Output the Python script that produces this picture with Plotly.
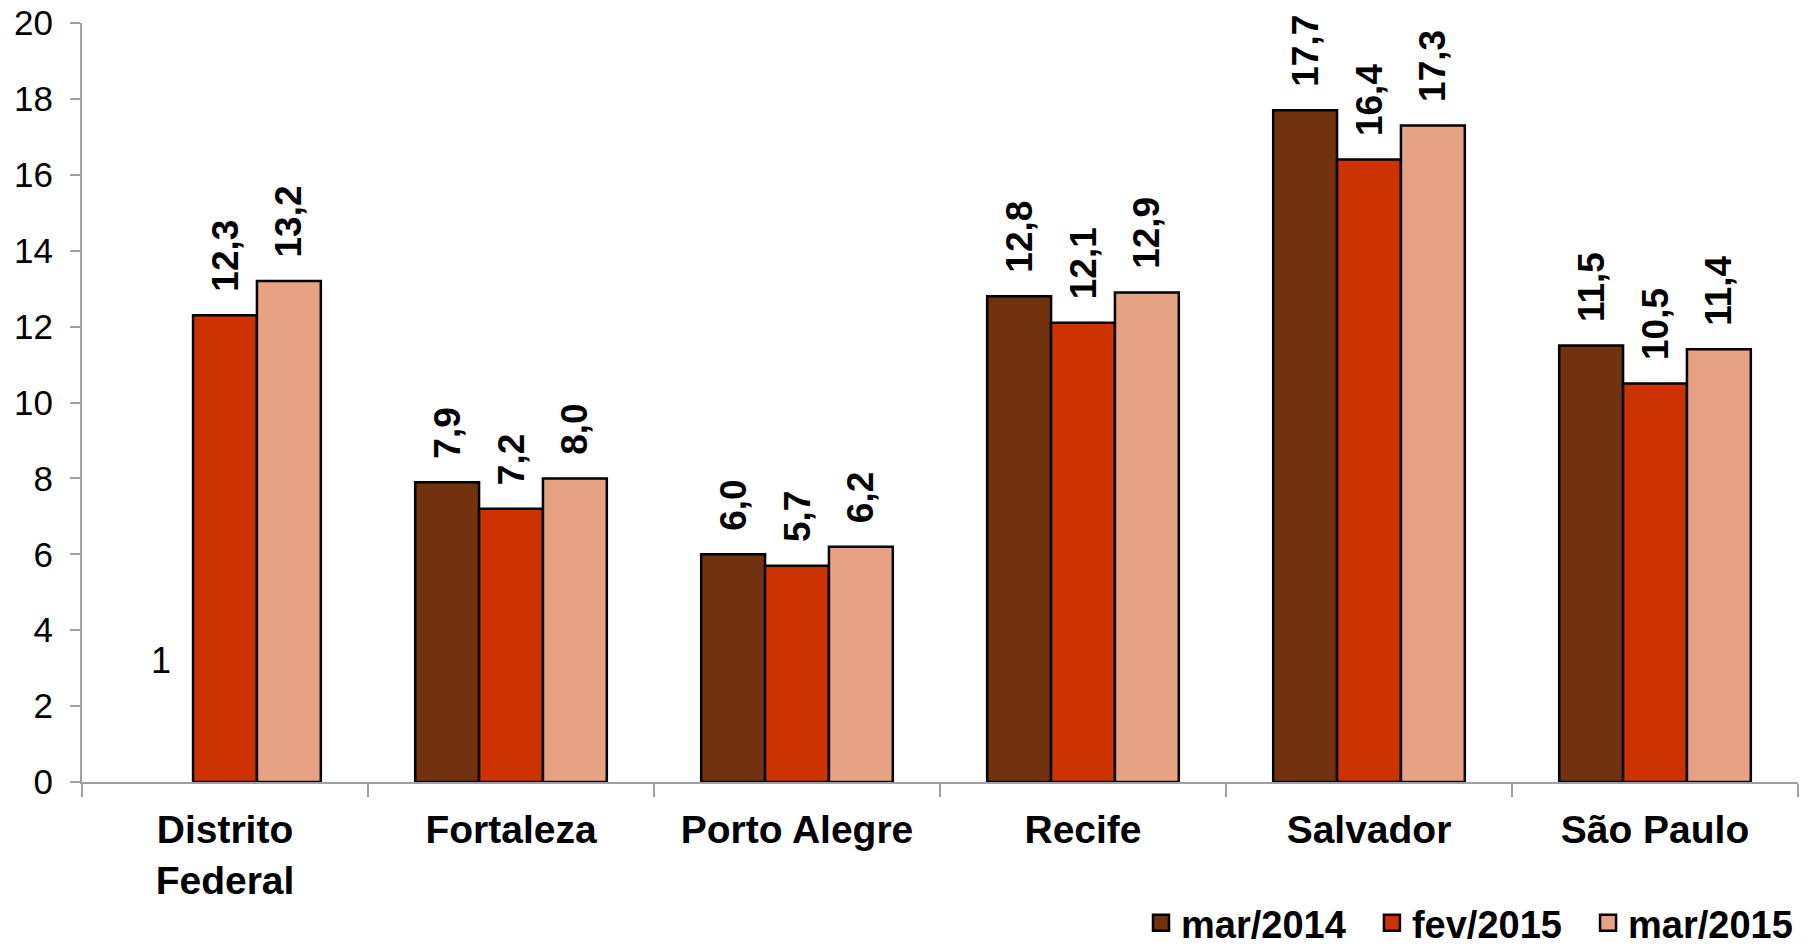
import plotly.graph_objects as go

categories = ["Distrito<br>Federal", "Fortaleza", "Porto Alegre", "Recife", "Salvador", "São Paulo"]
series_names = ["mar/2014", "fev/2015", "mar/2015"]
mar2014 = [None, 7.9, 6.0, 12.8, 17.7, 11.5]
fev2015 = [12.3, 7.2, 5.7, 12.1, 16.4, 10.5]
mar2015 = [13.2, 8.0, 6.2, 12.9, 17.3, 11.4]
y_ticks = [0, 2, 4, 6, 8, 10, 12, 14, 16, 18, 20]
footnote_text = "1"
footnote_y = 3.2

colors = ["#72320F", "#CC3300", "#E6A282"]
PAD = "\u00a0\u00a0"
FONT = "Liberation Sans, Arial, sans-serif"


def fmt(v):
    return "" if v is None else PAD + f"{v:.1f}".replace(".", ",")


fig = go.Figure()
for name, vals, col in zip(series_names, [mar2014, fev2015, mar2015], colors):
    fig.add_trace(go.Bar(
        x=categories, y=vals, name=name, showlegend=False,
        marker=dict(color=col, line=dict(color="#000000", width=2.5)),
        text=[fmt(v) for v in vals],
        textposition="outside", textangle=-90, constraintext="none",
        cliponaxis=False,
        textfont=dict(family=FONT, size=37, color="#000000", weight="bold"),
    ))

# legend entries with larger square swatches
for i, (name, col) in enumerate(zip(series_names, colors)):
    label = name + ("\u00a0\u00a0" if i < len(series_names) - 1 else "")
    fig.add_trace(go.Scatter(
        x=[None], y=[None], mode="markers", name=label,
        marker=dict(symbol="square", size=20, color=col, line=dict(color="#000000", width=2.5)),
    ))

fig.add_annotation(
    x=categories[0], y=footnote_y, text=footnote_text, showarrow=False,
    xshift=-64, font=dict(family=FONT, size=36, color="#000000"),
)

fig.update_layout(
    width=1816, height=950, autosize=False,
    margin=dict(l=82, r=18, t=23, b=168, autoexpand=False),
    paper_bgcolor="white", plot_bgcolor="white",
    barmode="group", bargap=0.33, bargroupgap=0,
    font=dict(family=FONT, color="#000000"),
    showlegend=True,
    legend=dict(
        orientation="h", x=1.0, xanchor="right", y=-0.186, yanchor="middle",
        font=dict(family=FONT, size=38, color="#000000", weight="bold"),
        traceorder="normal", bgcolor="rgba(0,0,0,0)", itemwidth=30,
    ),
)
fig.update_xaxes(
    showline=True, linecolor="#A0A0A0", linewidth=2,
    ticks="outside", tickson="boundaries", ticklen=13, tickwidth=2, tickcolor="#A0A0A0",
    tickfont=dict(family=FONT, size=39, color="#000000", weight="bold"),
    ticklabelstandoff=12,
    showgrid=False, zeroline=False, automargin=False,
)
fig.update_yaxes(
    range=[0, 20], tickvals=y_ticks,
    showline=True, linecolor="#A0A0A0", linewidth=2,
    ticks="outside", ticklen=10, tickwidth=2, tickcolor="#A0A0A0",
    tickfont=dict(family=FONT, size=35, color="#000000"),
    ticklabelstandoff=10,
    showgrid=False, zeroline=False, automargin=False,
)

fig.write_html(
    "out.html",
    config={"displayModeBar": False},
    post_script="document.body.style.margin='0';",
)
